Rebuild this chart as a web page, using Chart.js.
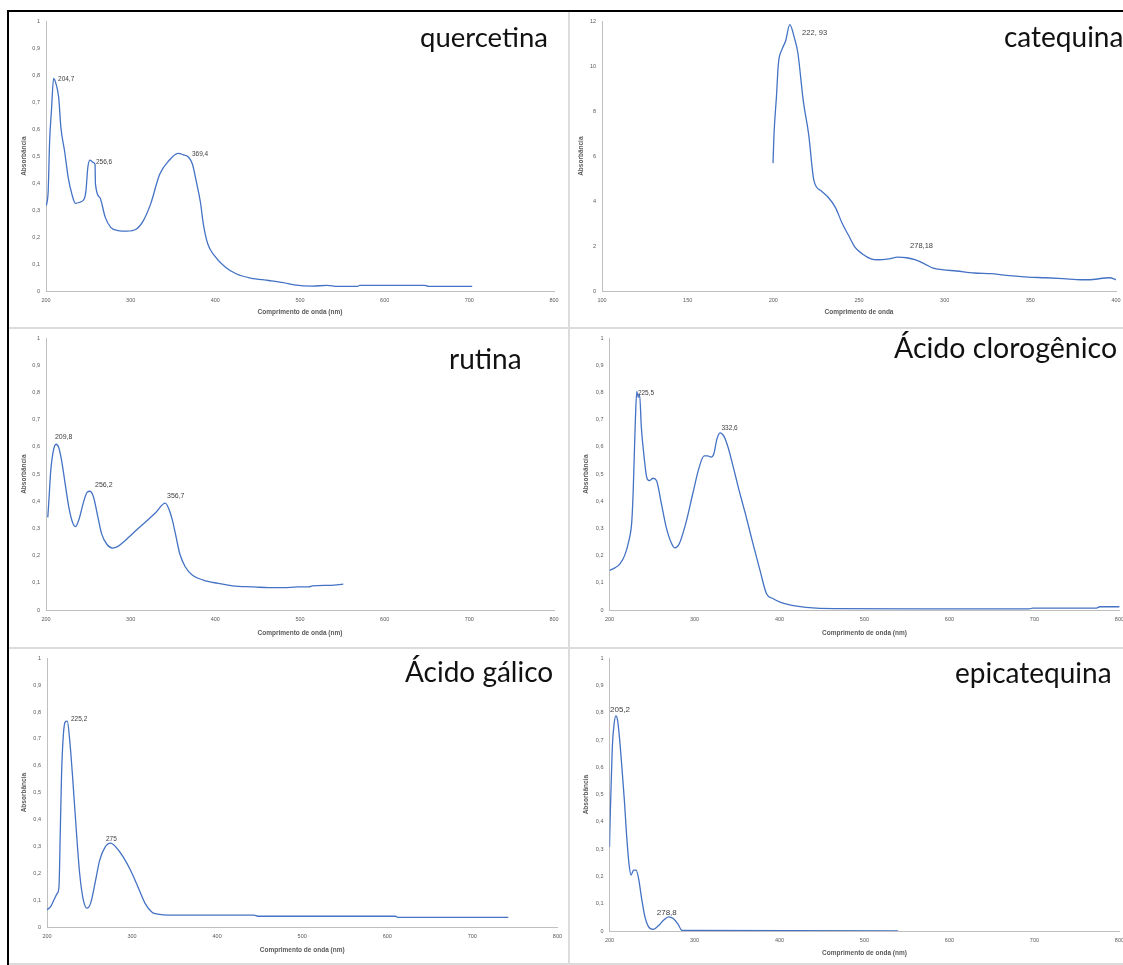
<!DOCTYPE html>
<html>
<head>
<meta charset="utf-8">
<script src="https://cdn.jsdelivr.net/npm/chart.js@4.4.0/dist/chart.umd.min.js"></script>
<style>
  html, body { margin: 0; padding: 0; background: #fff; overflow: hidden; }
  #page { position: relative; width: 1123px; height: 965px; overflow: hidden; background: #fff; }
  .gray { position: absolute; left: 9px; top: 12px; width: 1114px; height: 953px; background: #dcdcdc; }
  .blk { position: absolute; background: #000; }
  .panel { position: absolute; background: #fff; overflow: hidden; }
  .panel canvas { display: block; }
</style>
</head>
<body>
<div id="page">
  <div class="gray"></div>
  <div class="blk" style="left:7px;top:10px;width:1116px;height:2px"></div>
  <div class="blk" style="left:7px;top:10px;width:2px;height:955px"></div>
</div>
<script>
// quercetina
const quercetinaX = [200.4, 202.6, 204.3, 206.4, 209.0, 212.0, 215.0, 217.6, 221.9, 226.2, 230.5, 234.8, 239.9, 245.1, 247.2, 249.4, 251.9, 255.8, 257.9, 258.4, 263.5, 270.0, 276.4, 285.0, 295.7, 306.4, 315.0, 323.6, 334.3, 345.1, 355.8, 362.2, 368.7, 373.0, 377.3, 382.4, 385.8, 391.0, 398.7, 411.6, 424.5, 441.6, 463.1, 480.3, 493.1, 514.6, 531.8, 544.6, 568.2, 570.3, 647.6, 651.9, 703.4];
const quercetinaY = [0.316, 0.372, 0.557, 0.667, 0.788, 0.766, 0.717, 0.606, 0.520, 0.421, 0.360, 0.325, 0.329, 0.341, 0.372, 0.458, 0.485, 0.477, 0.470, 0.397, 0.347, 0.273, 0.236, 0.224, 0.222, 0.229, 0.261, 0.323, 0.433, 0.483, 0.510, 0.505, 0.495, 0.470, 0.409, 0.329, 0.249, 0.175, 0.132, 0.089, 0.064, 0.048, 0.039, 0.031, 0.023, 0.018, 0.021, 0.017, 0.017, 0.021, 0.021, 0.017, 0.017];
const quercetinaPeaks = [
  {text: "204,7", x: 214.2, y: 0.786},
  {text: "256,6", x: 259, y: 0.476},
  {text: "369,4", x: 372.4, y: 0.506}
];

// catequina
const catequinaX = [199.8, 200.4, 201.9, 202.9, 205.0, 207.1, 209.6, 212.3, 214.3, 217.5, 220.6, 223.7, 227.9, 232.0, 236.2, 240.3, 244.5, 247.6, 251.8, 257.0, 261.1, 267.4, 272.6, 277.8, 283.0, 288.2, 293.3, 298.5, 306.9, 317.3, 327.7, 338.0, 348.4, 358.8, 369.2, 379.6, 383.8, 396.3, 400];
const catequinaY = [5.69, 6.98, 8.75, 10.08, 10.74, 11.11, 11.85, 11.26, 10.60, 8.45, 6.98, 4.91, 4.46, 4.17, 3.72, 2.99, 2.39, 1.95, 1.66, 1.43, 1.39, 1.43, 1.51, 1.48, 1.39, 1.21, 1.02, 0.95, 0.89, 0.80, 0.77, 0.68, 0.62, 0.59, 0.55, 0.50, 0.50, 0.59, 0.50];
const catequinaPeaks = [
  {text: "222, 93", x: 216.8, y: 11.47},
  {text: "278,18", x: 279.8, y: 1.99}
];

// rutina
const rutinaX = [202.1, 203.4, 205.6, 208.6, 212.0, 215.0, 218.5, 222.7, 227.0, 231.3, 234.8, 239.1, 244.2, 248.5, 251.9, 256.2, 260.5, 265.7, 272.1, 278.5, 285.0, 293.6, 304.3, 317.2, 330.0, 340.8, 345.1, 349.4, 353.7, 358.0, 364.4, 373.0, 385.8, 403.0, 420.2, 445.9, 463.1, 480.3, 497.4, 510.3, 514.6, 536.1, 551.1];
const rutinaY = [0.341, 0.402, 0.512, 0.585, 0.610, 0.598, 0.549, 0.463, 0.378, 0.323, 0.307, 0.335, 0.396, 0.433, 0.437, 0.415, 0.354, 0.280, 0.241, 0.228, 0.234, 0.256, 0.287, 0.323, 0.360, 0.393, 0.372, 0.329, 0.268, 0.207, 0.159, 0.128, 0.110, 0.098, 0.089, 0.085, 0.082, 0.082, 0.085, 0.085, 0.089, 0.091, 0.095];
const rutinaPeaks = [
  {text: "209,8", x: 210.6, y: 0.637},
  {text: "256,2", x: 257.9, y: 0.458},
  {text: "356,7", x: 342.9, y: 0.418}
];

// ácido clorogênico
const clorogenicoX = [200, 206.3, 212.5, 217.9, 222.9, 226.3, 227.9, 229.2, 230.4, 232.1, 233.8, 235.4, 237.5, 240.4, 243.8, 246.7, 251.3, 255.4, 260.4, 266.7, 272.9, 277.1, 282.1, 289.6, 297.9, 305.4, 311.3, 315.4, 319.6, 322.9, 326.3, 330.0, 334.6, 339.6, 345.8, 352.1, 360.4, 368.8, 377.1, 384.6, 391.7, 402.1, 414.6, 431.3, 464.6, 564.6, 693.8, 697.9, 772.9, 777.1, 801];
const clorogenicoY = [0.146, 0.155, 0.171, 0.201, 0.256, 0.329, 0.439, 0.573, 0.695, 0.805, 0.783, 0.793, 0.671, 0.573, 0.488, 0.476, 0.485, 0.476, 0.402, 0.305, 0.246, 0.229, 0.244, 0.317, 0.427, 0.524, 0.567, 0.567, 0.563, 0.576, 0.628, 0.652, 0.640, 0.598, 0.524, 0.445, 0.348, 0.244, 0.146, 0.061, 0.043, 0.027, 0.017, 0.010, 0.005, 0.004, 0.004, 0.007, 0.007, 0.012, 0.012];
const clorogenicoPeaks = [
  {text: "225,5", x: 233.4, y: 0.799},
  {text: "332,6", x: 331.7, y: 0.670}
];

// ácido gálico
const galicoX = [200, 204.3, 208.5, 212.0, 214.1, 215.4, 217.1, 219.2, 221.4, 223.9, 226.5, 229.9, 234.2, 238.4, 242.7, 247.0, 251.2, 256.4, 261.9, 268.3, 274.7, 281.1, 289.7, 298.2, 306.8, 315.3, 323.8, 330.2, 343.0, 443.4, 447.7, 609.9, 612.0, 742.3];
const galicoY = [0.064, 0.076, 0.103, 0.125, 0.150, 0.321, 0.567, 0.714, 0.763, 0.766, 0.702, 0.567, 0.371, 0.199, 0.101, 0.070, 0.088, 0.162, 0.248, 0.297, 0.312, 0.297, 0.260, 0.211, 0.150, 0.088, 0.054, 0.048, 0.044, 0.044, 0.040, 0.040, 0.036, 0.036];
const galicoPeaks = [
  {text: "225,2", x: 228.2, y: 0.775},
  {text: "275", x: 269.3, y: 0.328}
];

// epicatequina
const epicatequinaX = [200, 200.8, 202.1, 203.3, 205.4, 207.5, 209.6, 211.7, 214.6, 217.5, 220.0, 222.9, 225.4, 228.3, 231.3, 234.6, 237.5, 241.7, 245.8, 251.3, 257.1, 263.8, 269.6, 275.0, 280.4, 285.4, 539.6];
const epicatequinaY = [0.308, 0.418, 0.552, 0.674, 0.759, 0.789, 0.771, 0.710, 0.600, 0.479, 0.357, 0.247, 0.205, 0.223, 0.223, 0.186, 0.125, 0.052, 0.016, 0.006, 0.018, 0.040, 0.052, 0.046, 0.026, 0.002, 0];
const epicatequinaPeaks = [
  {text: "205,2", x: 200.6, y: 0.810},
  {text: "278,8", x: 255.6, y: 0.066}
];

const lineColor = "#4472C4";
const axisColor = "#bfbfbf";
const textGray = "#595959";

const peakLabels = {
  id: "peakLabels",
  afterDatasetsDraw(chart, args, opts) {
    const {ctx, scales: {x, y}} = chart;
    ctx.save();
    ctx.font = opts.size + "px 'Liberation Sans'";
    ctx.fillStyle = "#404040";
    ctx.textAlign = "left";
    ctx.textBaseline = "middle";
    opts.labels.forEach(l => ctx.fillText(l.text, x.getPixelForValue(l.x), y.getPixelForValue(l.y)));
    ctx.restore();
  }
};

const panelTitle = {
  id: "panelTitle",
  afterDraw(chart, args, opts) {
    const ctx = chart.ctx;
    ctx.save();
    ctx.font = opts.size + "px Lato";
    ctx.fillStyle = "#111";
    ctx.textAlign = "left";
    ctx.textBaseline = "alphabetic";
    ctx.fillText(opts.text, opts.x, opts.y);
    ctx.restore();
  }
};

function comma(v) {
  return String(Number(v.toFixed(2))).replace(".", ",");
}

function makePanel(p) {
  let div = document.createElement("div");
  div.className = "panel";
  div.style.left = p.rect.x + "px";
  div.style.top = p.rect.y + "px";
  div.style.width = p.rect.w + "px";
  div.style.height = p.rect.h + "px";
  let canvas = document.createElement("canvas");
  canvas.width = p.rect.w;
  canvas.height = p.rect.h;
  div.appendChild(canvas);
  document.getElementById("page").appendChild(div);

  let titleFont = {family: "'Liberation Sans'", size: 6.5, weight: "bold"};
  let tickFont = {family: "'Liberation Sans'", size: 5.5};
  let tlh = titleFont.size * 1.2;
  let padLeft = p.yTitleX - p.rect.x - tlh / 2;
  let yW = p.area.l - p.rect.x - padLeft;
  let padBottom = p.rect.h - (p.xTitleY - p.rect.y) - tlh / 2;
  let xH = (p.rect.h - padBottom) - (p.area.b - p.rect.y);

  return new Chart(canvas, {
    type: "line",
    data: {
      datasets: [{
        data: p.xs.map((x, i) => ({x, y: p.ys[i]})),
        borderColor: lineColor,
        borderWidth: 1.3,
        pointRadius: 0,
        cubicInterpolationMode: "monotone",
        fill: false
      }]
    },
    options: {
      responsive: false,
      animation: false,
      events: [],
      layout: {
        padding: {
          left: padLeft,
          right: p.rect.x + p.rect.w - p.area.r,
          top: p.area.t - p.rect.y,
          bottom: padBottom
        }
      },
      plugins: {
        legend: {display: false},
        tooltip: {enabled: false},
        peakLabels: {labels: p.peaks, size: p.peakSize},
        panelTitle: p.title
      },
      scales: {
        x: {
          type: "linear",
          min: p.xMin, max: p.xMax,
          afterFit: s => { s.height = xH; },
          grid: {display: false, drawTicks: false},
          border: {color: axisColor, width: 1},
          ticks: {stepSize: p.xStep, padding: 6, color: textGray, font: tickFont, maxRotation: 0, autoSkip: false},
          title: {display: true, text: p.xTitle, color: textGray, font: titleFont, padding: 0}
        },
        y: {
          min: 0, max: p.yMax,
          afterFit: s => { s.width = yW; },
          grid: {display: false, drawTicks: false},
          border: {color: axisColor, width: 1},
          ticks: {stepSize: p.yStep, padding: 6, color: textGray, font: tickFont, callback: comma},
          title: {display: true, text: "Absorbância", color: textGray, font: titleFont, padding: 0}
        }
      }
    },
    plugins: [peakLabels, panelTitle]
  });
}

const nm = "Comprimento de onda (nm)";

makePanel({
  rect: {x: 9, y: 12, w: 559, h: 315},
  area: {l: 46, r: 554, t: 20, b: 291},
  yTitleX: 24, xTitleY: 312,
  xs: quercetinaX, ys: quercetinaY, peaks: quercetinaPeaks, peakSize: 6.5,
  xMin: 200, xMax: 800, xStep: 100, yMax: 1, yStep: 0.1, xTitle: nm,
  title: {text: "quercetina", x: 411, y: 34.7, size: 27.5}
});
makePanel({
  rect: {x: 570, y: 12, w: 560, h: 315},
  area: {l: 602, r: 1116, t: 20, b: 291},
  yTitleX: 581, xTitleY: 312,
  xs: catequinaX, ys: catequinaY, peaks: catequinaPeaks, peakSize: 7.5,
  xMin: 100, xMax: 400, xStep: 50, yMax: 12, yStep: 2, xTitle: "Comprimento de onda",
  title: {text: "catequina", x: 434, y: 34.7, size: 28}
});
makePanel({
  rect: {x: 9, y: 329, w: 559, h: 318},
  area: {l: 46, r: 554, t: 337, b: 610},
  yTitleX: 24, xTitleY: 633,
  xs: rutinaX, ys: rutinaY, peaks: rutinaPeaks, peakSize: 7,
  xMin: 200, xMax: 800, xStep: 100, yMax: 1, yStep: 0.1, xTitle: nm,
  title: {text: "rutina", x: 440, y: 40, size: 28}
});
makePanel({
  rect: {x: 570, y: 329, w: 560, h: 318},
  area: {l: 609.5, r: 1122, t: 337, b: 610},
  yTitleX: 586, xTitleY: 633,
  xs: clorogenicoX, ys: clorogenicoY, peaks: clorogenicoPeaks, peakSize: 6.5,
  xMin: 200, xMax: 800, xStep: 100, yMax: 1, yStep: 0.1, xTitle: nm,
  title: {text: "Ácido clorogênico", x: 324, y: 29, size: 28.5}
});
makePanel({
  rect: {x: 9, y: 649, w: 559, h: 314},
  area: {l: 47, r: 558, t: 656, b: 927},
  yTitleX: 24.5, xTitleY: 950,
  xs: galicoX, ys: galicoY, peaks: galicoPeaks, peakSize: 6.5,
  xMin: 200, xMax: 800, xStep: 100, yMax: 1, yStep: 0.1, xTitle: nm,
  title: {text: "Ácido gálico", x: 396, y: 33, size: 28}
});
makePanel({
  rect: {x: 570, y: 649, w: 560, h: 314},
  area: {l: 609.5, r: 1122, t: 657, b: 931},
  yTitleX: 586, xTitleY: 953,
  xs: epicatequinaX, ys: epicatequinaY, peaks: epicatequinaPeaks, peakSize: 8,
  xMin: 200, xMax: 800, xStep: 100, yMax: 1, yStep: 0.1, xTitle: nm,
  title: {text: "epicatequina", x: 385, y: 34, size: 28}
});
</script>
</body>
</html>
